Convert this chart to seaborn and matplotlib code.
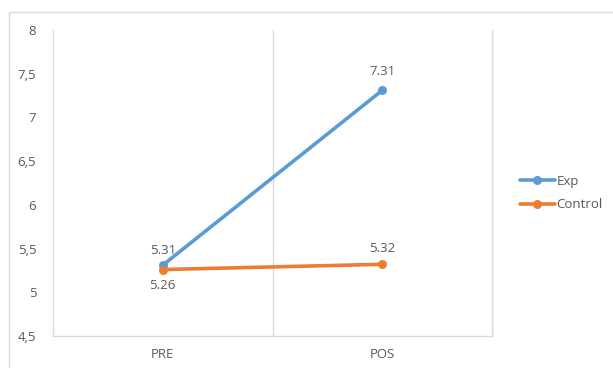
import matplotlib
matplotlib.use("Agg")
import matplotlib.pyplot as plt
from matplotlib.patches import Rectangle
import seaborn as sns
import pandas as pd

# Mean scores per group before and after the intervention
moments = ["PRE", "POS"]
exp_scores = [5.31, 7.31]
control_scores = [5.26, 5.32]
groups = ["Exp", "Control"]
y_ticks = [4.5, 5, 5.5, 6, 6.5, 7, 7.5, 8]

df = pd.DataFrame({
    "moment": moments * 2,
    "score": exp_scores + control_scores,
    "group": [groups[0]] * len(moments) + [groups[1]] * len(moments),
})

sns.set_theme(style="white")
plt.rcParams["font.family"] = ["Open Sans", "DejaVu Sans"]

text_color = "#595959"
grid_color = "#D9D9D9"
palette = {"Exp": "#5B9BD5", "Control": "#ED7D31"}
fs = 9.5

fig = plt.figure(figsize=(6.13, 3.68), dpi=100)
fig.patch.set_facecolor("white")
# chart frame
fig.patches.append(Rectangle((9 / 613, -0.1), 1.2, 1 - 12 / 368 + 0.1,
                             transform=fig.transFigure, fill=False,
                             edgecolor=grid_color, linewidth=1.0))

ax = fig.add_axes([53 / 613, 1 - 336 / 368, (492 - 53) / 613, (336 - 30) / 368])
sns.lineplot(data=df, x="moment", y="score", hue="group", palette=palette,
             marker="o", markersize=6.5, markeredgewidth=0, linewidth=2.6,
             sort=False, ax=ax)

ax.set_xlim(-0.5, 1.5)
ax.set_ylim(4.5, 8)
ax.set_yticks(y_ticks)
ax.set_yticklabels([f"{t:g}".replace(".", ",") for t in y_ticks])
ax.set_xlabel("")
ax.set_ylabel("")
ax.axvline(0.5, color=grid_color, linewidth=1.0, zorder=0)

ax.spines["top"].set_visible(False)
for side in ["left", "right", "bottom"]:
    ax.spines[side].set_color(grid_color)
    ax.spines[side].set_linewidth(1.0)

ax.tick_params(axis="both", length=0, labelsize=fs, colors=text_color)
ax.tick_params(axis="y", pad=12)
ax.tick_params(axis="x", pad=9)

# value labels: Exp above its points, Control below at PRE and above at POS
exp_offsets = [6, 9]
control_offsets = [-7, 7]
for i, v in enumerate(exp_scores):
    ax.annotate(f"{v:.2f}", (i, v), xytext=(0, exp_offsets[i]), textcoords="offset points",
                ha="center", va="bottom", fontsize=fs, color=text_color)
for i, v in enumerate(control_scores):
    off = control_offsets[i]
    ax.annotate(f"{v:.2f}", (i, v), xytext=(0, off), textcoords="offset points",
                ha="center", va="top" if off < 0 else "bottom",
                fontsize=fs, color=text_color)

handles, labels = ax.get_legend_handles_labels()
ax.legend(handles, labels, loc="center left", bbox_to_anchor=(515 / 613, 1 - 193 / 368),
          bbox_transform=fig.transFigure, frameon=False, fontsize=fs,
          handlelength=2.6, handletextpad=0.15, labelspacing=0.8,
          labelcolor=text_color, borderaxespad=0)

fig.savefig("out.png", dpi=100)
